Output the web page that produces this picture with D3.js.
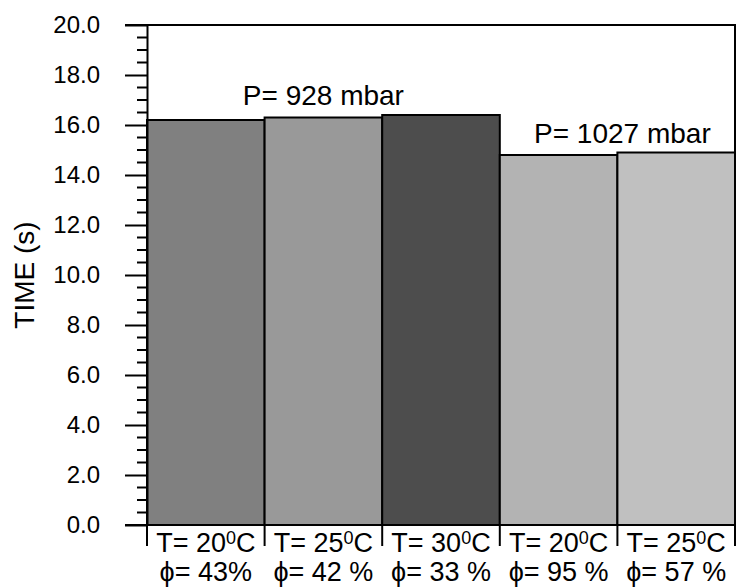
<!DOCTYPE html>
<html>
<head>
<meta charset="utf-8">
<script src="https://cdn.jsdelivr.net/npm/d3@7"></script>
<style>
  body { margin: 0; background: #fff; }
  svg text { font-family: "Liberation Sans", Arial, sans-serif; fill: #000; }
</style>
</head>
<body>
<svg id="chart" width="736" height="588"></svg>
<script>
// chart values
const temps = ["20", "25", "30", "20", "25"];
const humid = ["43%", "42 %", "33 %", "95 %", "57 %"];
const times = [16.2, 16.3, 16.4, 14.8, 14.9];
const barColors = ["#808080", "#999999", "#4d4d4d", "#b3b3b3", "#c0c0c0"];
const pressures = ["P= 928 mbar", "P= 1027 mbar"];
const pressureGroups = [[0, 1, 2], [3, 4]];
const yTicks = [0, 2, 4, 6, 8, 10, 12, 14, 16, 18, 20];

const svg = d3.select("#chart");
const plotL = 147, plotR = 735, plotT = 25, plotB = 525;

const idx = times.map((d, i) => i);
const x = d3.scaleBand().domain(idx).range([plotL, plotR]).padding(0);
const y = d3.scaleLinear().domain([0, 20]).range([plotB, plotT]);

// bars
svg.append("g").selectAll("rect").data(idx).enter().append("rect")
    .attr("x", i => x(i))
    .attr("y", i => y(times[i]))
    .attr("width", x.bandwidth())
    .attr("height", i => y(0) - y(times[i]))
    .attr("fill", i => barColors[i])
    .attr("stroke", "#000")
    .attr("stroke-width", 2);

// frame (top, right)
svg.append("path")
    .attr("d", `M${plotL - 22},${plotT}H${plotR}V${plotB}`)
    .attr("fill", "none").attr("stroke", "#000").attr("stroke-width", 2);

// minor ticks
const minor = d3.range(0, 20.001, 0.5).filter(v => Math.abs(v % 2) > 0.01);
svg.append("g").selectAll("line").data(minor).enter().append("line")
    .attr("x1", plotL - 10).attr("x2", plotL)
    .attr("y1", d => y(d)).attr("y2", d => y(d))
    .attr("stroke", "#000").attr("stroke-width", 2);

// y axis
const yAxis = svg.append("g")
    .attr("transform", `translate(${plotL},0)`)
    .call(d3.axisLeft(y).tickValues(yTicks).tickFormat(d3.format(".1f"))
        .tickSize(22).tickPadding(25).tickSizeOuter(0));
yAxis.selectAll("path, line").attr("stroke", "#000").attr("stroke-width", 2);
yAxis.selectAll("text").attr("font-size", 24).attr("font-family", "Liberation Sans, Arial, sans-serif");

// x baseline + category separators
svg.append("line")
    .attr("x1", plotL - 22).attr("x2", plotR)
    .attr("y1", plotB).attr("y2", plotB)
    .attr("stroke", "#000").attr("stroke-width", 2);
const seps = idx.map(i => x(i)).concat([plotR]);
svg.append("g").selectAll("line").data(seps).enter().append("line")
    .attr("x1", d => d).attr("x2", d => d)
    .attr("y1", plotB).attr("y2", plotB + 21)
    .attr("stroke", "#000").attr("stroke-width", 2);

// category labels
const cat = svg.append("g").selectAll("g").data(idx).enter().append("g");
const t1 = cat.append("text")
    .attr("x", i => x(i) + x.bandwidth() / 2)
    .attr("y", plotB + 27)
    .attr("text-anchor", "middle")
    .attr("font-size", 27);
t1.append("tspan").text(i => "T= " + temps[i]);
t1.append("tspan").attr("font-size", 18).attr("dy", -8).text("0");
t1.append("tspan").attr("dy", 8).text("C");

cat.append("text")
    .attr("x", i => x(i) + x.bandwidth() / 2)
    .attr("y", plotB + 56)
    .attr("text-anchor", "middle")
    .attr("font-size", 27)
    .text(i => "\u03D5= " + humid[i]);

// pressure annotations
svg.append("g").selectAll("text").data(pressures).enter().append("text")
    .attr("x", (d, k) => {
        const g = pressureGroups[k];
        return (x(g[0]) + x(g[g.length - 1]) + x.bandwidth()) / 2 + (k === 1 ? 5 : 0);
    })
    .attr("y", (d, k) => y(d3.max(pressureGroups[k], i => times[i]) + 0.4))
    .attr("text-anchor", "middle")
    .attr("font-size", 28)
    .text(d => d);

// y title
svg.append("text")
    .attr("transform", `translate(34,${(plotT + plotB) / 2}) rotate(-90)`)
    .attr("text-anchor", "middle")
    .attr("font-size", 28)
    .text("TIME (s)");
</script>
</body>
</html>
